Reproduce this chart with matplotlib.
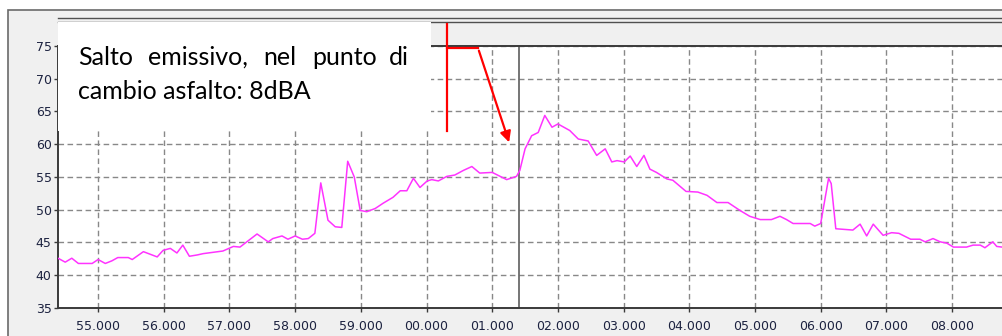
import matplotlib
matplotlib.use('Agg')
import matplotlib.pyplot as plt
from matplotlib.patches import Rectangle, FancyArrowPatch
from matplotlib.lines import Line2D

# time axis in seconds: 55..59 then 60 = "00.000", 61 = "01.000" ...
t = [54.39, 54.50, 54.60, 54.70, 54.91, 55.00, 55.11, 55.21, 55.30, 55.46,
     55.52, 55.69, 55.90, 55.99, 56.10, 56.20, 56.29, 56.39, 56.51, 56.60,
     56.90, 57.06, 57.16, 57.42, 57.59, 57.66, 57.80, 57.89, 58.00, 58.11,
     58.20, 58.30, 58.39, 58.50, 58.61, 58.71, 58.80, 58.90, 58.99, 59.09,
     59.22, 59.34, 59.49, 59.60, 59.70, 59.80, 59.90, 60.01, 60.08, 60.18,
     60.31, 60.43, 60.56, 60.69, 60.81, 61.00, 61.22, 61.37, 61.42, 61.50,
     61.60, 61.70, 61.80, 61.91, 62.00, 62.18, 62.31, 62.46, 62.59, 62.72,
     62.82, 62.90, 63.01, 63.10, 63.20, 63.31, 63.40, 63.50, 63.66, 63.75,
     63.95, 64.13, 64.27, 64.42, 64.59, 64.77, 64.92, 65.08, 65.25, 65.38,
     65.48, 65.58, 65.84, 65.91, 66.00, 66.12, 66.16, 66.23, 66.49, 66.60,
     66.70, 66.80, 66.95, 67.08, 67.19, 67.37, 67.51, 67.59, 67.71, 67.82,
     67.92, 68.02, 68.22, 68.32, 68.43, 68.50, 68.62, 68.68, 68.76]
dba = [42.6, 42.0, 42.6, 41.8, 41.8, 42.4, 41.8, 42.2, 42.7, 42.7,
       42.4, 43.6, 42.8, 43.8, 44.1, 43.4, 44.6, 42.9, 43.1, 43.3,
       43.7, 44.4, 44.3, 46.3, 45.1, 45.6, 46.0, 45.5, 46.0, 45.5,
       45.6, 46.4, 54.1, 48.4, 47.4, 47.3, 57.4, 55.0, 49.9, 49.7,
       50.2, 51.0, 51.9, 52.9, 52.9, 54.8, 53.4, 54.4, 54.6, 54.4,
       55.1, 55.3, 56.0, 56.6, 55.6, 55.7, 54.6, 55.1, 56.0, 59.3,
       61.3, 61.8, 64.4, 62.6, 63.1, 62.1, 60.8, 60.5, 58.3, 59.3,
       57.3, 57.5, 57.3, 58.2, 56.6, 58.3, 56.2, 55.7, 54.7, 54.5,
       52.8, 52.7, 52.2, 51.1, 51.1, 49.9, 49.0, 48.5, 48.5, 49.0,
       48.5, 47.9, 47.9, 47.5, 47.9, 54.8, 54.0, 47.1, 46.9, 47.8,
       46.0, 47.8, 46.1, 46.5, 46.4, 45.5, 45.5, 45.1, 45.6, 45.1,
       44.9, 44.3, 44.3, 44.6, 44.6, 44.2, 45.1, 44.4, 44.3]

x_ticks = [55, 56, 57, 58, 59, 60, 61, 62, 63, 64, 65, 66, 67, 68]
x_labels = ['55.000', '56.000', '57.000', '58.000', '59.000', '00.000', '01.000',
            '02.000', '03.000', '04.000', '05.000', '06.000', '07.000', '08.000']
y_ticks = [35, 40, 45, 50, 55, 60, 65, 70, 75]
marker_t = 61.40

note_words = ['Salto', 'emissivo,', 'nel', 'punto', 'di']
note_line2 = 'cambio asfalto: 8dBA'

W, H = 1002, 336
fig = plt.figure(figsize=(W / 100, H / 100), dpi=100)
fig.patch.set_facecolor('white')


def fx(x):
    return x / W


def fy(y):
    return 1 - y / H


# window frame and header band
fig.add_artist(Rectangle((fx(8), -0.1), 1.2, fy(10) + 0.1, transform=fig.transFigure,
                         facecolor='#f0f0f0', edgecolor='#6a6a6a', lw=1.2, zorder=-5))
for yy in (18, 21.7):
    fig.add_artist(Line2D([fx(58), 1], [fy(yy), fy(yy)], transform=fig.transFigure,
                          color='#505050', lw=1.0, zorder=-4))

ax = fig.add_axes([fx(58), fy(308), 1 - fx(58), fy(46) - fy(308)])
ax.set_facecolor('white')
ax.plot(t, dba, color='#ff33ff', lw=1.1, zorder=3)
ax.axvline(marker_t, color='#6a6a6a', lw=1.3, zorder=2)

ax.set_xlim(54.39, 68.76)
ax.set_ylim(35, 75)
ax.set_xticks(x_ticks)
ax.set_xticklabels(x_labels)
ax.set_yticks(y_ticks)
ax.grid(True, color='#888888', linestyle=(0, (4, 2.5)), lw=1.0)
for s in ('left', 'bottom', 'top'):
    ax.spines[s].set_color('#3a3a3a')
    ax.spines[s].set_linewidth(1.4)
ax.spines['right'].set_visible(False)
ax.tick_params(axis='both', direction='out', length=3, width=1, color='#3a3a3a',
               labelsize=9, labelcolor='#1c2240')
ax.tick_params(axis='y', pad=1.5)
ax.tick_params(axis='x', pad=6)

# white text box over the top-left of the chart
fig.add_artist(Rectangle((fx(58), fy(131)), fx(431) - fx(58), fy(22.5) - fy(131),
                         transform=fig.transFigure, facecolor='white',
                         edgecolor='none', zorder=10))
word_x = [78, 148, 263, 312, 409]
for i, w in enumerate(note_words):
    ha = 'right' if i == len(note_words) - 1 else 'left'
    fig.text(fx(word_x[i]), fy(65), w, ha=ha, va='baseline', fontsize=18,
             family='Lato', color='black', zorder=11)
fig.text(fx(78), fy(99), note_line2, ha='left', va='baseline', fontsize=18,
         family='Lato', color='black', zorder=11)

# red annotation
red = '#ff0000'
fig.add_artist(Line2D([fx(447), fx(447)], [fy(24), fy(131)], transform=fig.transFigure,
                      color=red, lw=1.6, zorder=12))
fig.add_artist(Line2D([fx(447), fx(478)], [fy(48), fy(48)], transform=fig.transFigure,
                      color=red, lw=1.6, zorder=12))
fig.add_artist(FancyArrowPatch((fx(478), fy(48)), (fx(510), fy(145)),
                               transform=fig.transFigure, arrowstyle='-|>',
                               mutation_scale=16, color=red, lw=1.6, zorder=12))

fig.savefig('out.png', dpi=100)
